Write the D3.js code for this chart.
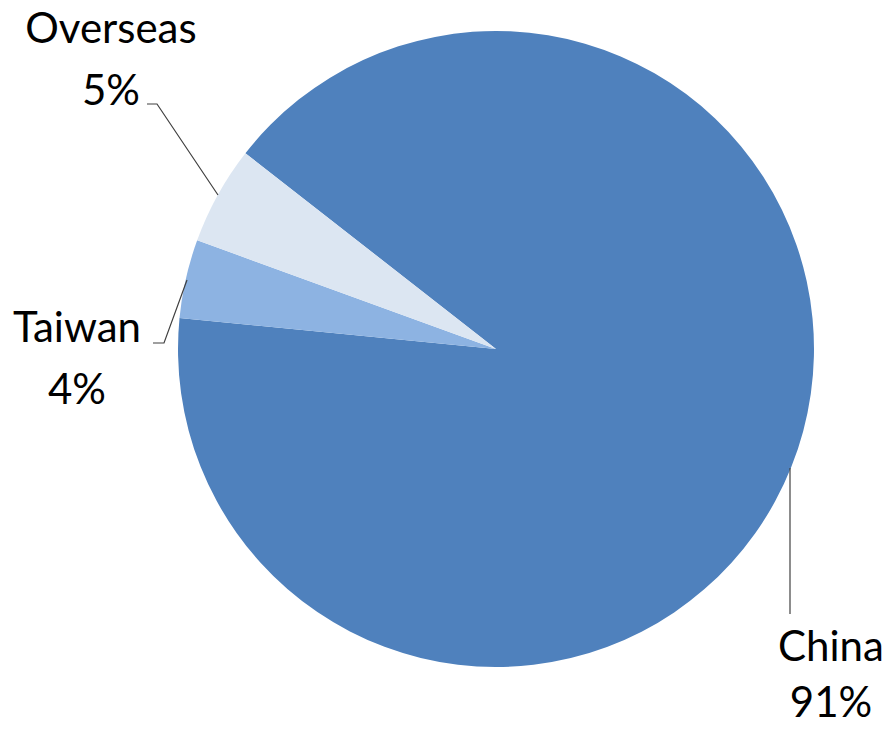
<!DOCTYPE html>
<html>
<head>
<meta charset="utf-8">
<style>
  body { margin: 0; background: #fff; }
  text { font-family: Lato, "Open Sans", sans-serif; fill: #000; }
</style>
</head>
<body>
<div id="chart"></div>
<script src="https://d3js.org/d3.v7.min.js"></script>
<script>
var categories = ["China", "Taiwan", "Overseas"];
var shares = [91, 4, 5];
var colours = ["#4F81BD", "#8DB3E2", "#DCE6F2"];

var width = 890, height = 729;
var cx = 496, cy = 349, radius = 318;

var svg = d3.select("#chart").append("svg")
    .attr("width", width)
    .attr("height", height);

var g = svg.append("g").attr("transform", "translate(" + cx + "," + cy + ")");

// China starts about 52 degrees left of 12 o'clock
var start = -52 * Math.PI / 180;
var pie = d3.pie().sort(null).startAngle(start).endAngle(start + 2 * Math.PI);
var arc = d3.arc().innerRadius(0).outerRadius(radius);

var data = categories.map(function(c, i) { return {name: c, value: shares[i], colour: colours[i]}; });

g.selectAll("path")
  .data(pie.value(function(d) { return d.value; })(data))
  .enter().append("path")
    .attr("d", arc)
    .attr("fill", function(d) { return d.data.colour; });

// label positions (absolute) and leader lines
var labels = [
  {x: 831, y1: 661, y2: 717, line: [[790, 468], [790, 614]]},
  {x: 77, y1: 342, y2: 404, line: [[153, 343], [164, 343], [187, 280]]},
  {x: 111, y1: 43, y2: 105, line: [[147, 104], [157, 104], [218, 195]]}
];

var lab = svg.append("g");
data.forEach(function(d, i) {
  var L = labels[i];
  lab.append("path")
    .attr("d", d3.line()(L.line))
    .attr("fill", "none")
    .attr("stroke", "#404040")
    .attr("stroke-width", 1.2);
  lab.append("text")
    .attr("x", L.x).attr("y", L.y1)
    .attr("text-anchor", "middle")
    .style("font-size", "42px")
    .text(d.name);
  lab.append("text")
    .attr("x", L.x).attr("y", L.y2)
    .attr("text-anchor", "middle")
    .style("font-size", "42px")
    .text(d.value + "%");
});
</script>
</body>
</html>
